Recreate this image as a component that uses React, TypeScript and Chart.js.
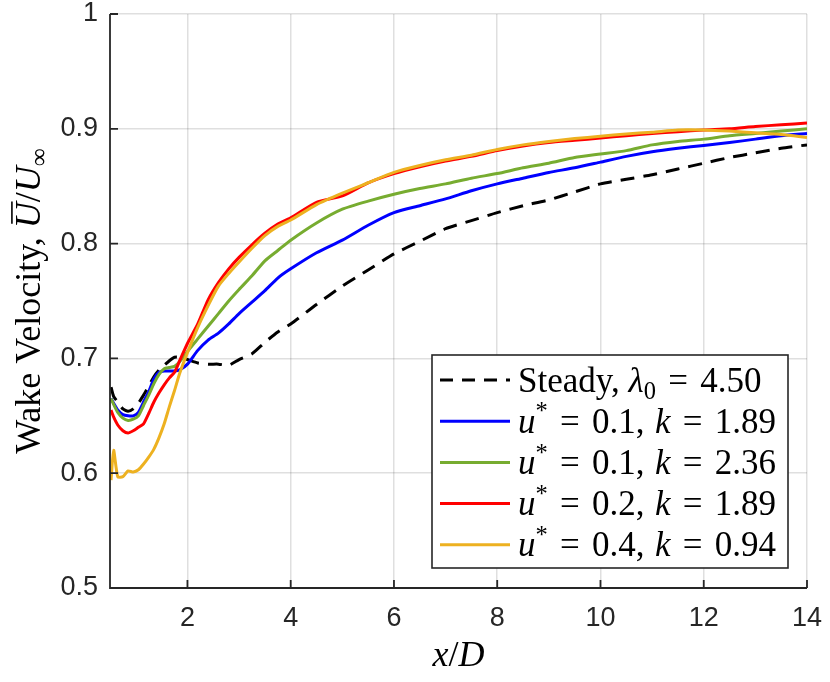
import React, { useEffect, useRef } from "react";
import { Chart, registerables } from "chart.js";

Chart.register(...registerables);

// x/D sample positions shared by all curves
const xPositions = [
  0.52, 0.57, 0.65, 0.75, 0.85, 0.95, 1.05, 1.15, 1.25, 1.35, 1.45, 1.55, 1.65,
  1.75, 1.85, 2.0, 2.2, 2.4, 2.6, 2.8, 3.0, 3.25, 3.5, 3.75, 4.0, 4.5, 5.0, 5.5,
  6.0, 6.5, 7.0, 7.5, 8.0, 8.5, 9.0, 9.5, 10.0, 10.5, 11.0, 11.5, 12.0, 12.5,
  13.0, 13.5, 14.0,
];

const steadyWake = [
  0.675, 0.667, 0.662, 0.656, 0.654, 0.656, 0.661, 0.668, 0.676, 0.684, 0.69,
  0.694, 0.698, 0.701, 0.701, 0.699, 0.696, 0.695, 0.695, 0.694, 0.699, 0.704,
  0.714, 0.723, 0.73, 0.747, 0.763, 0.777, 0.791, 0.802, 0.813, 0.82, 0.827,
  0.833, 0.838, 0.845, 0.852, 0.856, 0.86, 0.865, 0.87, 0.875, 0.879, 0.883,
  0.886,
];

const u01k189 = [
  0.665, 0.661, 0.655, 0.651, 0.65, 0.65, 0.653, 0.662, 0.671, 0.682, 0.688,
  0.689, 0.689, 0.689, 0.69, 0.695, 0.707, 0.716, 0.722, 0.73, 0.739, 0.749,
  0.759, 0.77, 0.778, 0.792, 0.803, 0.816, 0.827, 0.833, 0.839, 0.846, 0.852,
  0.857, 0.862, 0.866, 0.871, 0.876, 0.88, 0.883, 0.8855, 0.888, 0.891, 0.894,
  0.896,
];

const u01k236 = [
  0.665, 0.66, 0.653, 0.648, 0.646, 0.647, 0.65, 0.659, 0.668, 0.678, 0.686,
  0.691, 0.692, 0.693, 0.697, 0.706, 0.717, 0.728, 0.739, 0.75, 0.76, 0.772,
  0.785, 0.794, 0.803, 0.818, 0.83, 0.837, 0.843, 0.848, 0.852, 0.857, 0.861,
  0.866, 0.87, 0.875, 0.878, 0.881, 0.886, 0.889, 0.891, 0.894, 0.896, 0.898,
  0.9,
];

const u02k189 = [
  0.655, 0.649, 0.642, 0.637, 0.635, 0.637, 0.64, 0.643, 0.652, 0.662, 0.67,
  0.677, 0.683, 0.688, 0.698, 0.713, 0.73, 0.751, 0.766, 0.778, 0.788, 0.799,
  0.809, 0.817, 0.8225, 0.836, 0.8415, 0.853, 0.861, 0.867, 0.872, 0.876,
  0.881, 0.885, 0.888, 0.89, 0.892, 0.894, 0.896, 0.8975, 0.899, 0.9, 0.902,
  0.9035, 0.905,
];

const u04k094 = [
  0.594, 0.62, 0.597, 0.597, 0.602, 0.601, 0.603, 0.608, 0.614, 0.621, 0.631,
  0.643, 0.658, 0.672, 0.687, 0.705, 0.727, 0.746, 0.763, 0.774, 0.784, 0.796,
  0.807, 0.815, 0.8205, 0.834, 0.844, 0.853, 0.862, 0.868, 0.873, 0.877,
  0.882, 0.886, 0.889, 0.8915, 0.8935, 0.8955, 0.897, 0.899, 0.899, 0.898,
  0.8965, 0.895, 0.8925,
];

const xTicks = [2, 4, 6, 8, 10, 12, 14];
const yTicks = [0.5, 0.6, 0.7, 0.8, 0.9, 1];

type Seg = { t?: string; it?: boolean; sub?: boolean; sup?: boolean; over?: boolean; gap?: number };

const SERIF = '"Liberation Serif", "DejaVu Serif", serif';
const INK = "#262626";

function mathLabel(u: string, k: string): Seg[] {
  return [
    { t: "u", it: true },
    { t: "*", sup: true },
    { gap: 0.35 },
    { t: "=" },
    { gap: 0.35 },
    { t: u + "," },
    { gap: 0.3 },
    { t: "k", it: true },
    { gap: 0.35 },
    { t: "=" },
    { gap: 0.35 },
    { t: k },
  ];
}

const legendRows: { color: string; dash: boolean; segs: Seg[] }[] = [
  {
    color: "#000000",
    dash: true,
    segs: [
      { t: "Steady, " },
      { t: "λ", it: true },
      { t: "0", sub: true },
      { gap: 0.35 },
      { t: "=" },
      { gap: 0.35 },
      { t: "4.50" },
    ],
  },
  { color: "#0000ff", dash: false, segs: mathLabel("0.1", "1.89") },
  { color: "#77ac30", dash: false, segs: mathLabel("0.1", "2.36") },
  { color: "#ff0000", dash: false, segs: mathLabel("0.2", "1.89") },
  { color: "#edb120", dash: false, segs: mathLabel("0.4", "0.94") },
];

function drawRich(ctx: CanvasRenderingContext2D, segs: Seg[], x: number, y: number, size: number, draw = true) {
  let cx = x;
  for (const s of segs) {
    if (s.gap) {
      cx += s.gap * size;
      continue;
    }
    const fs = s.sub || s.sup ? size * 0.7 : size;
    ctx.font = `${s.it ? "italic " : ""}${fs}px ${SERIF}`;
    const dy = s.sub ? size * 0.2 : s.sup ? -size * 0.38 : 0;
    const w = ctx.measureText(s.t || "").width;
    if (draw) {
      ctx.fillText(s.t || "", cx, y + dy);
      if (s.over) {
        ctx.beginPath();
        ctx.lineWidth = 1.6;
        ctx.moveTo(cx + size * 0.12, y - size * 0.78);
        ctx.lineTo(cx + w + size * 0.02, y - size * 0.78);
        ctx.stroke();
      }
    }
    cx += w;
  }
  return cx - x;
}

const yTitle: Seg[] = [
  { t: "Wake Velocity, " },
  { t: "U", it: true, over: true },
  { t: "/" },
  { t: "U", it: true },
  { t: "∞", sub: true },
];

const xTitle: Seg[] = [{ t: "x", it: true }, { t: "/" }, { t: "D", it: true }];

const matlabAxes = {
  id: "matlabAxes",
  afterDatasetsDraw(chart: any) {
    const { ctx, chartArea: a, scales } = chart;
    ctx.save();
    ctx.strokeStyle = INK;
    ctx.fillStyle = INK;
    ctx.lineWidth = 1.8;
    ctx.setLineDash([]);
    ctx.beginPath();
    for (const v of xTicks) {
      const px = scales.x.getPixelForValue(v);
      ctx.moveTo(px, a.bottom);
      ctx.lineTo(px, a.bottom - 8);
    }
    for (const v of yTicks) {
      const py = scales.y.getPixelForValue(v);
      ctx.moveTo(a.left, py);
      ctx.lineTo(a.left + 8, py);
    }
    ctx.moveTo(a.left, a.top);
    ctx.lineTo(a.left, a.bottom);
    ctx.lineTo(a.right, a.bottom);
    ctx.stroke();

    // legend box
    const lw = 356;
    const lh = 213;
    const right = a.right - 19;
    const bottom = a.bottom - 20;
    const left = right - lw;
    const top = bottom - lh;
    ctx.fillStyle = "#ffffff";
    ctx.fillRect(left, top, lw, lh);
    ctx.strokeStyle = INK;
    ctx.lineWidth = 1.6;
    ctx.strokeRect(left, top, lw, lh);
    const size = 35;
    ctx.textBaseline = "alphabetic";
    ctx.textAlign = "left";
    legendRows.forEach((row, i) => {
      const cy = top + 25 + i * 41.2;
      ctx.beginPath();
      ctx.strokeStyle = row.color;
      ctx.lineWidth = 3;
      ctx.setLineDash(row.dash ? [13, 9] : []);
      ctx.moveTo(left + 8, cy);
      ctx.lineTo(left + 78, cy);
      ctx.stroke();
      ctx.setLineDash([]);
      ctx.fillStyle = "#000000";
      drawRich(ctx, row.segs, left + 86, cy + 11.5, size);
    });

    // axis titles
    ctx.fillStyle = "#000000";
    ctx.strokeStyle = "#000000";
    const ts = 36;
    const yw = drawRich(ctx, yTitle, 0, 0, ts, false);
    ctx.save();
    ctx.translate(40, (a.top + a.bottom) / 2);
    ctx.rotate(-Math.PI / 2);
    drawRich(ctx, yTitle, -yw / 2, 0, ts);
    ctx.restore();
    const xw = drawRich(ctx, xTitle, 0, 0, ts, false);
    drawRich(ctx, xTitle, (a.left + a.right) / 2 - xw / 2, 666, ts);
    ctx.restore();
  },
};

export default function App() {
  const canvasRef = useRef<HTMLCanvasElement | null>(null);
  const chartRef = useRef<Chart | null>(null);

  useEffect(() => {
    document.body.style.margin = "0";
    if (!canvasRef.current) return;
    if (chartRef.current) chartRef.current.destroy();

    const series = [
      { label: "Steady", data: steadyWake, color: "#000000", dash: [14, 9], order: 4 },
      { label: "u*=0.1, k=1.89", data: u01k189, color: "#0000ff", dash: [], order: 3 },
      { label: "u*=0.1, k=2.36", data: u01k236, color: "#77ac30", dash: [], order: 2 },
      { label: "u*=0.2, k=1.89", data: u02k189, color: "#ff0000", dash: [], order: 1 },
      { label: "u*=0.4, k=0.94", data: u04k094, color: "#edb120", dash: [], order: 0 },
    ];

    chartRef.current = new Chart(canvasRef.current, {
      type: "line",
      data: {
        datasets: series.map((s) => ({
          label: s.label,
          data: xPositions.map((x, i) => ({ x, y: s.data[i] })),
          borderColor: s.color,
          borderWidth: 3,
          borderDash: s.dash,
          pointRadius: 0,
          tension: 0.2,
          fill: false,
          order: s.order,
        })),
      },
      options: {
        animation: false,
        responsive: true,
        maintainAspectRatio: false,
        layout: { padding: { top: 14, right: 23, left: 0, bottom: 0 } },
        plugins: {
          legend: { display: false },
          tooltip: { enabled: false },
        },
        scales: {
          x: {
            type: "linear",
            min: 0.5,
            max: 14,
            afterBuildTicks: (scale: any) => {
              scale.ticks = xTicks.map((v) => ({ value: v }));
            },
            afterFit: (scale: any) => {
              scale.height = 94;
              scale.paddingLeft = 0;
              scale.paddingRight = 0;
            },
            grid: { color: "rgba(38,38,38,0.15)", lineWidth: 1.5, drawTicks: false },
            border: { display: false },
            ticks: {
              color: INK,
              padding: 14,
              font: { family: '"Liberation Sans", Arial, sans-serif', size: 27 },
              callback: (v: any) => String(v),
            },
          },
          y: {
            type: "linear",
            min: 0.5,
            max: 1,
            afterBuildTicks: (scale: any) => {
              scale.ticks = yTicks.map((v) => ({ value: v }));
            },
            afterFit: (scale: any) => {
              scale.width = 110;
              scale.paddingTop = 0;
              scale.paddingBottom = 0;
            },
            grid: { color: "rgba(38,38,38,0.15)", lineWidth: 1.5, drawTicks: false },
            border: { display: false },
            ticks: {
              color: INK,
              padding: 12,
              font: { family: '"Liberation Sans", Arial, sans-serif', size: 27 },
              callback: (v: any) => String(v),
            },
          },
        },
      },
      plugins: [matlabAxes],
    });

    return () => {
      if (chartRef.current) {
        chartRef.current.destroy();
        chartRef.current = null;
      }
    };
  }, []);

  return (
    <div style={{ width: "830px", height: "682px", position: "relative" }}>
      <canvas ref={canvasRef} />
    </div>
  );
}
